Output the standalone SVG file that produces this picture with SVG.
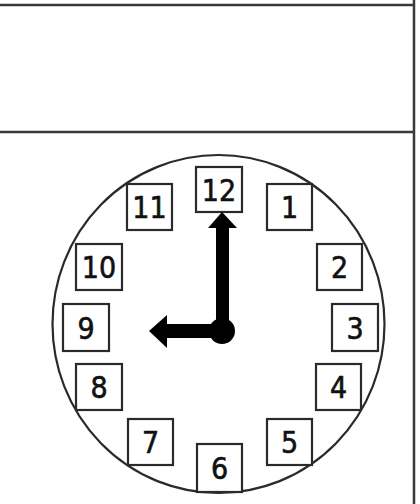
<svg xmlns="http://www.w3.org/2000/svg" width="420" height="504" viewBox="0 0 420 504">
<style>
.frame{stroke:#3a3a3a;stroke-width:2.5;fill:none}
.box{fill:#fff;stroke:#2a2a2a;stroke-width:2.2}
.num{font-family:"DejaVu Sans Condensed","DejaVu Sans",sans-serif;font-size:30px;fill:#111;stroke:#111;stroke-width:0.6;text-anchor:middle}
.hand{fill:#000}
</style>
<rect width="420" height="504" fill="#fff"/>
<g id="frame">
<line class="frame" x1="0" y1="5" x2="415" y2="5"/>
<line class="frame" x1="0" y1="132" x2="415" y2="132"/>
<line class="frame" x1="414" y1="0" x2="414" y2="504"/>
</g>
<g id="dial">
<ellipse cx="218.5" cy="324" rx="166" ry="169" fill="none" stroke="#2a2a2a" stroke-width="2.2"/>
</g>
<g id="n12"><rect class="box" x="196" y="167" width="46" height="45"/><text class="num" x="219" y="201">12</text></g>
<g id="n1"><rect class="box" x="267" y="184" width="45" height="46"/><text class="num" x="289.5" y="218">1</text></g>
<g id="n2"><rect class="box" x="317" y="244" width="45" height="46"/><text class="num" x="339.5" y="278">2</text></g>
<g id="n3"><rect class="box" x="332" y="304" width="46" height="47"/><text class="num" x="355" y="339">3</text></g>
<g id="n4"><rect class="box" x="316" y="364" width="45" height="46"/><text class="num" x="338.5" y="398">4</text></g>
<g id="n5"><rect class="box" x="267" y="419" width="45" height="46"/><text class="num" x="289.5" y="453">5</text></g>
<g id="n6"><rect class="box" x="197" y="444" width="45" height="48"/><text class="num" x="219.5" y="479">6</text></g>
<g id="n7"><rect class="box" x="128" y="419" width="45" height="46"/><text class="num" x="150.5" y="453">7</text></g>
<g id="n8"><rect class="box" x="76" y="364" width="46" height="46"/><text class="num" x="99" y="398">8</text></g>
<g id="n9"><rect class="box" x="63" y="304" width="46" height="47"/><text class="num" x="86" y="339">9</text></g>
<g id="n10"><rect class="box" x="76" y="244" width="46" height="46"/><text class="num" x="99" y="278">10</text></g>
<g id="n11"><rect class="box" x="127" y="184" width="45" height="46"/><text class="num" x="149.5" y="218">11</text></g>
<g id="hands">
<polygon class="hand" points="222,212 237,228 229,228 229,331 216,331 216,228 208,228"/>
<polygon class="hand" points="149,331 167,315 167,324 222,324 222,338 167,338 167,348"/>
<circle class="hand" cx="222" cy="331" r="13"/>
</g>
</svg>
